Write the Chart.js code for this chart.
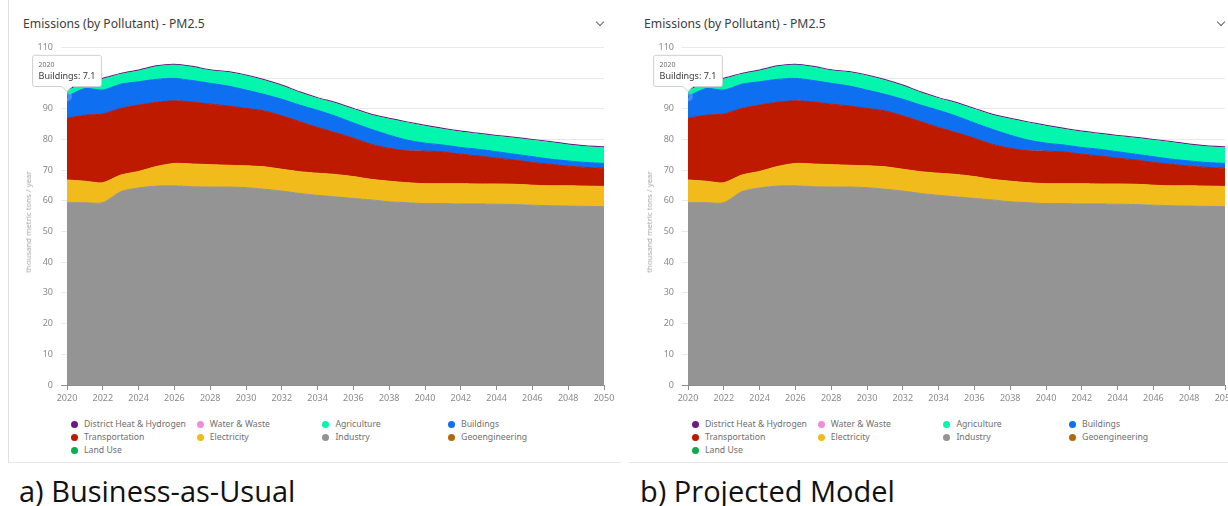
<!DOCTYPE html>
<html>
<head>
<meta charset="utf-8">
<script src="https://cdn.jsdelivr.net/npm/chart.js@4.4.0/dist/chart.umd.min.js"></script>
<style>
  html, body { margin: 0; padding: 0; background: #fff; }
  body { width: 1228px; height: 506px; position: relative; overflow: hidden; font-family: "Noto Sans", sans-serif; }
  .card { position: absolute; top: 0; height: 462px; border-bottom: 1px solid #e8e8e8; }
  .title { position: absolute; top: 17px; font-size: 12.2px; line-height: 14px; color: #3d3d3d; white-space: nowrap; }
  .chev { position: absolute; top: 19px; width: 5px; height: 5px; border-right: 1.5px solid #666; border-bottom: 1.5px solid #666; transform: rotate(45deg); }
  .ytitle { position: absolute; top: 222px; font-size: 7.8px; line-height: 10px; color: #a8a8a8; white-space: nowrap; transform: translate(-50%, -50%) rotate(-90deg); }
  canvas { position: absolute; top: 34px; }
  .lg { position: absolute; display: flex; align-items: center; font-size: 8.7px; line-height: 11px; color: #6f6f6f; white-space: nowrap; }
  .lg i { display: inline-block; width: 7px; height: 7px; border-radius: 50%; margin-right: 6px; }
  .caption { position: absolute; top: 474px; font-family: "Open Sans", sans-serif; font-size: 29px; line-height: 34px; color: #111; white-space: nowrap; }
</style>
</head>
<body>
<script>
// ===============================
// DATA
// ===============================

const years = [2020, 2021, 2022, 2023, 2024, 2025, 2026, 2027, 2028, 2029, 2030,
  2031, 2032, 2033, 2034, 2035, 2036, 2037, 2038, 2039, 2040,
  2041, 2042, 2043, 2044, 2045, 2046, 2047, 2048, 2049, 2050];

const industry = [59.4, 59.4, 59.4, 63.0, 64.2, 64.8, 64.9, 64.6, 64.5, 64.5, 64.3,
  63.8, 63.2, 62.4, 61.8, 61.3, 60.8, 60.3, 59.7, 59.4, 59.1,
  59.1, 59.0, 59.0, 58.9, 58.8, 58.6, 58.4, 58.3, 58.2, 58.1];
const electricity = [7.4, 7.0, 6.5, 5.4, 5.4, 6.4, 7.3, 7.4, 7.3, 7.1, 7.1,
  7.3, 7.1, 7.1, 7.2, 7.3, 7.1, 6.7, 6.7, 6.5, 6.5,
  6.5, 6.6, 6.5, 6.6, 6.6, 6.5, 6.5, 6.6, 6.6, 6.6];
const transportation = [20.1, 21.5, 22.4, 21.7, 21.6, 20.9, 20.4, 20.2, 19.7, 19.3, 18.7,
  18.2, 17.4, 16.3, 14.9, 13.6, 12.5, 11.4, 10.7, 10.4, 10.6,
  10.3, 9.6, 9.1, 8.4, 7.9, 7.4, 7.0, 6.4, 6.1, 5.9];
const buildings = [7.1, 8.7, 7.8, 7.9, 7.6, 7.5, 7.3, 7.0, 6.8, 6.5, 6.0,
  5.4, 5.4, 5.4, 5.6, 5.4, 5.0, 4.9, 4.3, 3.5, 2.6,
  2.3, 2.2, 2.2, 2.1, 1.9, 1.9, 1.7, 1.7, 1.6, 1.6];
const agriculture = [1.7, 1.9, 3.5, 3.2, 3.5, 4.1, 4.3, 4.3, 4.1, 4.4, 4.6,
  4.5, 4.3, 4.0, 3.8, 4.1, 4.4, 4.6, 5.2, 5.6, 5.5,
  5.1, 5.0, 4.9, 5.0, 5.2, 5.3, 5.4, 5.2, 5.1, 5.1];
const waterWaste = [0.1, 0.1, 0.1, 0.1, 0.1, 0.1, 0.1, 0.1, 0.1, 0.1, 0.1,
  0.1, 0.1, 0.1, 0.1, 0.1, 0.1, 0.1, 0.1, 0.1, 0.1,
  0.1, 0.1, 0.1, 0.1, 0.1, 0.1, 0.1, 0.1, 0.1, 0.1];
const districtHeat = [0.2, 0.2, 0.2, 0.2, 0.2, 0.2, 0.2, 0.2, 0.2, 0.2, 0.2,
  0.2, 0.2, 0.2, 0.2, 0.2, 0.2, 0.2, 0.2, 0.2, 0.2,
  0.2, 0.2, 0.2, 0.2, 0.2, 0.2, 0.2, 0.2, 0.2, 0.2];
const landUse = [0, 0, 0, 0, 0, 0, 0, 0, 0, 0, 0,
  0, 0, 0, 0, 0, 0, 0, 0, 0, 0,
  0, 0, 0, 0, 0, 0, 0, 0, 0, 0];
const geoengineering = [0, 0, 0, 0, 0, 0, 0, 0, 0, 0, 0,
  0, 0, 0, 0, 0, 0, 0, 0, 0, 0,
  0, 0, 0, 0, 0, 0, 0, 0, 0, 0];

const yTicks = [0, 10, 20, 30, 40, 50, 60, 70, 80, 90, 100, 110];
const xTicks = [2020, 2022, 2024, 2026, 2028, 2030, 2032, 2034, 2036, 2038, 2040, 2042, 2044, 2046, 2048, 2050];

// legend order (as shown under the chart)
const legendOrder = ["District Heat & Hydrogen", "Water & Waste", "Agriculture", "Buildings",
  "Transportation", "Electricity", "Industry", "Geoengineering", "Land Use"];

const colors = {
  "District Heat & Hydrogen": "#6b1a84",
  "Water & Waste": "#f58bd8",
  "Agriculture": "#03f6ac",
  "Buildings": "#0e6ff1",
  "Transportation": "#bd1a00",
  "Electricity": "#f1bb1b",
  "Industry": "#949494",
  "Geoengineering": "#b0680a",
  "Land Use": "#0eaa4c"
};

// stacking order, bottom to top
const stack = [
  ["Land Use", landUse],
  ["Geoengineering", geoengineering],
  ["Industry", industry],
  ["Electricity", electricity],
  ["Transportation", transportation],
  ["Buildings", buildings],
  ["Agriculture", agriculture],
  ["Water & Waste", waterWaste],
  ["District Heat & Hydrogen", districtHeat]
];

const panels = [
  { x: 0, caption: "a) Business-as-Usual" },
  { x: 621, caption: "b) Projected Model" }
];

Chart.defaults.font.family = '"Noto Sans", sans-serif';

// ===============================
// BUILD PANELS
// ===============================

panels.forEach((p, n) => {
  const card = document.createElement("div");
  card.className = "card";
  card.style.left = (p.x + 8) + "px";
  card.style.width = (n === 0 ? 612 : 606) + "px";
  if (n === 0) card.style.borderLeft = "1px solid #e0e0e0";
  document.body.appendChild(card);

  const title = document.createElement("div");
  title.className = "title";
  title.style.left = (p.x + 23) + "px";
  title.textContent = "Emissions (by Pollutant) - PM2.5";
  document.body.appendChild(title);

  const chev = document.createElement("div");
  chev.className = "chev";
  chev.style.left = (p.x + 597) + "px";
  document.body.appendChild(chev);

  const canvas = document.createElement("canvas");
  canvas.width = 612;
  canvas.height = 376;
  canvas.style.left = (p.x + 8) + "px";
  document.body.appendChild(canvas);

  const yt = document.createElement("div");
  yt.className = "ytitle";
  yt.style.left = (p.x + 28) + "px";
  yt.textContent = "thousand metric tons / year";
  document.body.appendChild(yt);

  legendOrder.forEach((name, i) => {
    const col = i % 4, row = Math.floor(i / 4);
    const item = document.createElement("div");
    item.className = "lg";
    item.style.left = (p.x + 71 + col * 125.7) + "px";
    item.style.top = (418.5 + row * 13) + "px";
    item.innerHTML = `<i style="background:${colors[name]}"></i>${name}`;
    document.body.appendChild(item);
  });

  const cap = document.createElement("div");
  cap.className = "caption";
  cap.style.left = (p.x + 19) + "px";
  cap.textContent = p.caption;
  document.body.appendChild(cap);

  drawChart(canvas);
});

// ===============================
// DRAW CHART
// ===============================

function drawChart(canvas) {
  const datasets = stack.map(([name, values], i) => {
    const c = colors[name];
    const hidden = name === "Land Use" || name === "Geoengineering" || name === "Water & Waste";
    return {
      label: name,
      data: values.map((v, k) => ({ x: years[k], y: v })),
      backgroundColor: c,
      borderColor: hidden ? "transparent" : c,
      borderWidth: name === "District Heat & Hydrogen" ? 1.2 : 1,
      fill: i === 0 ? "origin" : "-1",
      tension: 0.25,
      pointRadius: 0,
      pointHoverRadius: 3,
      pointHoverBackgroundColor: "#0e6ff1",
      pointHoverBorderColor: "rgba(120,170,250,0.5)",
      pointHoverBorderWidth: 4
    };
  });

  const chart = new Chart(canvas, {
    type: "line",
    data: { datasets },
    options: {
      responsive: false,
      animation: false,
      events: [],
      layout: { padding: { left: 0, right: 16, top: 2, bottom: 0 } },
      plugins: {
        legend: { display: false },
        tooltip: {
          backgroundColor: "#fff",
          borderColor: "#cfcfcf",
          borderWidth: 1,
          titleColor: "#6f6f6f",
          bodyColor: "#3a3a3a",
          titleFont: { size: 7, weight: "normal" },
          bodyFont: { size: 9 },
          titleMarginBottom: 2,
          padding: { x: 6, y: 5 },
          cornerRadius: 2,
          caretSize: 5,
          caretPadding: 5,
          displayColors: false,
          xAlign: "center",
          yAlign: "bottom",
          callbacks: {
            title: items => String(items[0].raw.x),
            label: item => item.dataset.label + ": " + item.raw.y
          }
        }
      },
      scales: {
        x: {
          type: "linear",
          min: 2020,
          max: 2050,
          afterFit: s => { s.height = 25; },
          afterBuildTicks: s => { s.ticks = xTicks.map(v => ({ value: v })); },
          grid: { drawOnChartArea: false, drawTicks: true, tickLength: 5, color: "#8d8d8d" },
          border: { color: "#8d8d8d" },
          ticks: { color: "#8a8a8a", font: { size: 9 }, padding: 3, maxRotation: 0, callback: v => String(v) }
        },
        y: {
          stacked: true,
          min: 0,
          max: 110,
          afterFit: s => { s.width = 59; },
          afterBuildTicks: s => { s.ticks = yTicks.map(v => ({ value: v })); },
          grid: { color: c => c.tick && c.tick.value === 0 ? "#8d8d8d" : "#e9e9e9", tickLength: 6 },
          border: { display: false },
          ticks: { color: "#8a8a8a", font: { size: 9 }, padding: 8, callback: v => String(v) }
        }
      }
    }
  });

  const bIdx = stack.findIndex(s => s[0] === "Buildings");
  const active = [{ datasetIndex: bIdx, index: 0 }];
  chart.setActiveElements(active);
  chart.tooltip.setActiveElements(active, { x: 0, y: 0 });
  chart.update();
}
</script>
</body>
</html>
